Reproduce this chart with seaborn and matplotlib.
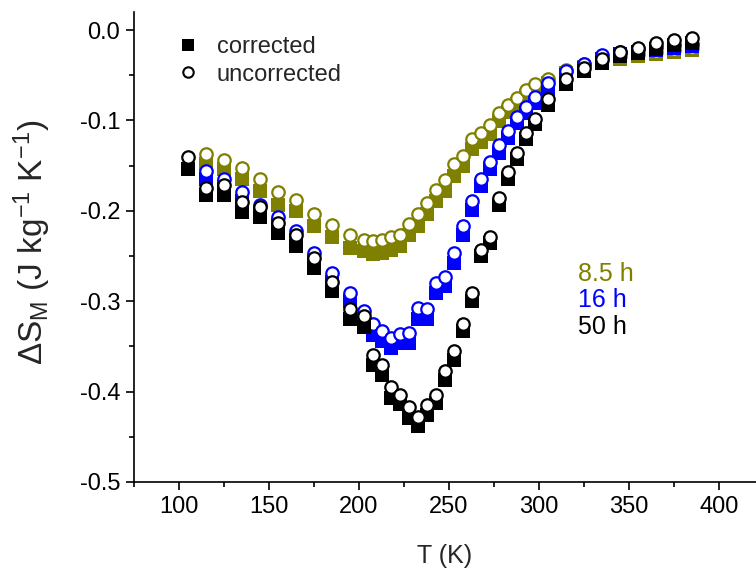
import numpy as np
import pandas as pd
import matplotlib
matplotlib.use("Agg")
import matplotlib.pyplot as plt
import seaborn as sns
from matplotlib.lines import Line2D
from matplotlib.ticker import MultipleLocator

# ---------------- data ----------------
T_50 = [105, 115, 125, 135, 145, 155, 165, 175, 185, 195, 202.5, 207.5, 212.5, 217.5,
        222.5, 227.5, 232.5, 237.5, 242.5, 247.5, 252.5, 257.5, 262.5, 267.5, 272.5,
        277.5, 282.5, 287.5, 292.5, 297.5, 305, 315, 325, 335, 345, 355, 365, 375, 385]
T_short = T_50[1:]

black_unc = [-0.1406, -0.1745, -0.171, -0.190, -0.1956, -0.2133, -0.227, -0.252, -0.2787,
             -0.3086, -0.3167, -0.359, -0.371, -0.395, -0.404, -0.4175, -0.428, -0.4145,
             -0.4034, -0.3776, -0.355, -0.325, -0.291, -0.243, -0.229, -0.186, -0.157,
             -0.1358, -0.1136, -0.098, -0.0767, -0.0546, -0.0417, -0.0317, -0.024,
             -0.0196, -0.0147, -0.011, -0.0084]
black_cor = [-0.1535, -0.183, -0.182, -0.2015, -0.207, -0.2244, -0.239, -0.263, -0.289,
             -0.320, -0.328, -0.370, -0.382, -0.407, -0.414, -0.429, -0.4385, -0.4256,
             -0.4126, -0.3868, -0.365, -0.333, -0.300, -0.250, -0.236, -0.193, -0.1646,
             -0.143, -0.121, -0.1044, -0.0834, -0.060, -0.045, -0.036, -0.0288,
             -0.025, -0.0206, -0.017, -0.014]

blue_unc = [-0.156, -0.1646, -0.179, -0.193, -0.207, -0.2225, -0.2462, -0.269, -0.2913,
            -0.3105, -0.3248, -0.3333, -0.3407, -0.336, -0.335, -0.308, -0.3086, -0.2798,
            -0.2727, -0.2466, -0.2163, -0.1893, -0.1653, -0.146, -0.1277, -0.1118, -0.096,
            -0.0849, -0.0738, -0.059, -0.0454, -0.038, -0.028, -0.024, -0.021, -0.019,
            -0.017, -0.015]
blue_cor = [-0.165, -0.174, -0.189, -0.202, -0.216, -0.232, -0.256, -0.279, -0.300,
            -0.320, -0.337, -0.344, -0.3517, -0.346, -0.346, -0.3197, -0.3197, -0.2908,
            -0.2835, -0.2576, -0.2262, -0.1986, -0.1727, -0.154, -0.1358, -0.119, -0.1033,
            -0.0915, -0.0804, -0.0657, -0.050, -0.042, -0.032, -0.027, -0.024, -0.022,
            -0.020, -0.018]

olive_unc = [-0.137, -0.144, -0.153, -0.165, -0.179, -0.188, -0.203, -0.216, -0.2266,
             -0.2318, -0.2336, -0.2318, -0.2288, -0.2262, -0.214, -0.204, -0.191, -0.177,
             -0.166, -0.148, -0.139, -0.120, -0.1136, -0.1055, -0.0922, -0.0834, -0.0749,
             -0.0664, -0.0601, -0.0538, -0.0443, -0.038, -0.033, -0.029, -0.026, -0.024,
             -0.022, -0.020]
olive_cor = [-0.1487, -0.154, -0.1646, -0.178, -0.193, -0.200, -0.217, -0.229, -0.241,
             -0.2447, -0.2475, -0.2465, -0.243, -0.2384, -0.2262, -0.217, -0.204, -0.189,
             -0.178, -0.1617, -0.1506, -0.132, -0.124, -0.115, -0.101, -0.091, -0.082,
             -0.073, -0.066, -0.058, -0.048, -0.041, -0.036, -0.032, -0.029, -0.026,
             -0.024, -0.022]

series_names = ["8.5 h", "16 h", "50 h"]
series_colors = ["#808000", "#0000FF", "#000000"]

x_ticks = [100, 150, 200, 250, 300, 350, 400]
y_ticks = [0.0, -0.1, -0.2, -0.3, -0.4, -0.5]

# ---------------- style ----------------
sns.set_theme(style="ticks")
plt.rcParams["font.family"] = ["Liberation Sans", "DejaVu Sans"]
plt.rcParams["mathtext.fontset"] = "custom"
plt.rcParams["mathtext.rm"] = "Liberation Sans"
plt.rcParams["mathtext.it"] = "Liberation Sans:italic"
plt.rcParams["axes.unicode_minus"] = False

W, H = 756, 572
fig = plt.figure(figsize=(W / 100, H / 100), dpi=100)
ax = fig.add_axes([134 / W, (H - 482) / H, (W - 134) / W, (482 - 12) / H])

data = [
    (T_short, olive_cor, olive_unc, series_colors[0]),
    (T_short, blue_cor, blue_unc, series_colors[1]),
    (T_50, black_cor, black_unc, series_colors[2]),
]

for T, cor, unc, col in data:
    df = pd.DataFrame({"T": T, "cor": cor, "unc": unc})
    sns.scatterplot(data=df, x="T", y="cor", ax=ax, marker="s", s=108,
                    color=col, edgecolor=col, linewidth=0, zorder=3)
    sns.scatterplot(data=df, x="T", y="unc", ax=ax, marker="o", s=80,
                    facecolor="white", edgecolor=col, linewidth=1.6, zorder=3)

ax.set_xlim(75, 420.5)
ax.set_ylim(-0.5, 0.02)
ax.set_xticks(x_ticks)
ax.set_yticks(y_ticks)
ax.set_yticklabels([f"{v:.1f}" if v != 0 else "0.0" for v in y_ticks])
ax.xaxis.set_minor_locator(MultipleLocator(25))
ax.yaxis.set_minor_locator(MultipleLocator(0.05))
ax.tick_params(which="major", direction="out", length=6, width=1.2, labelsize=17,
               color="black", labelcolor="black", pad=4)
ax.tick_params(which="minor", direction="out", length=3.5, width=1.2, color="black")
for side in ["top", "right"]:
    ax.spines[side].set_visible(False)
for side in ["left", "bottom"]:
    ax.spines[side].set_linewidth(1.2)
    ax.spines[side].set_color("black")

ax.set_xlabel("T (K)", fontsize=18)
ax.set_ylabel("ΔS$_\\mathrm{M}$ (J kg$^{-1}$ K$^{-1}$)", fontsize=24)
ax.xaxis.set_label_coords(0.5, -0.132)
ax.yaxis.set_label_coords(-0.13, 0.51)

handles = [
    Line2D([], [], linestyle="none", marker="s", markersize=8, color="black",
           markeredgewidth=0, label="corrected"),
    Line2D([], [], linestyle="none", marker="o", markersize=7.5, markerfacecolor="white",
           markeredgecolor="black", markeredgewidth=1.5, label="uncorrected"),
]
ax.legend(handles=handles, loc="upper left", bbox_to_anchor=(0.0715, 0.948),
          frameon=False, fontsize=17, handlelength=0.8, handletextpad=0.83,
          labelspacing=0.22, borderaxespad=0, borderpad=0)

label_y = [-0.270, -0.299, -0.329]
for name, col, yy in zip(series_names, series_colors, label_y):
    ax.text(321.7, yy, name, color=col, fontsize=18, ha="left", va="center")

fig.savefig("out.png", dpi=100)
